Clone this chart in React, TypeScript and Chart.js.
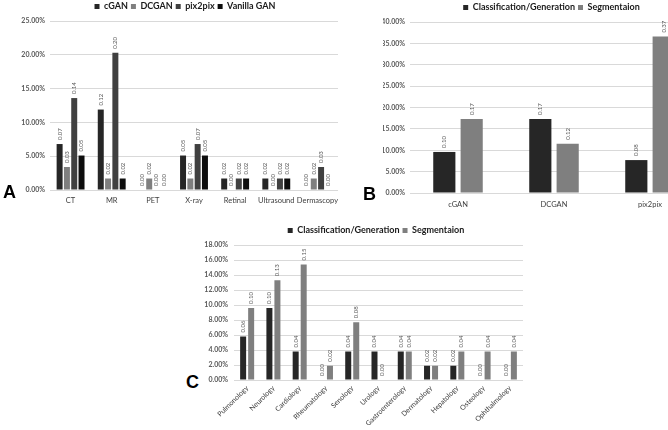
import React, { useEffect, useRef } from "react";
import { Chart, registerables } from "chart.js";
Chart.register(...registerables);

// ---------- Data ----------
const modalities = ["CT", "MR", "PET", "X-ray", "Retinal", "Ultrasound", "Dermascopy"];
const cganA = [6.8, 11.9, 0, 5.1, 1.7, 1.7, 0];
const dcganA = [3.4, 1.7, 1.7, 1.7, 0, 0, 1.7];
const pix2pixA = [13.6, 20.3, 0, 6.8, 1.7, 1.7, 3.4];
const vanillaA = [5.1, 1.7, 0, 5.1, 1.7, 1.7, 0];
const yTicksA = [0, 5, 10, 15, 20, 25];

const ganTypes = ["cGAN", "DCGAN", "pix2pix"];
const classGenB = [9.6, 17.3, 7.7];
const segB = [17.3, 11.5, 36.6];
const yTicksB = [0, 5, 10, 15, 20, 25, 30, 35, 40];

const specialties = [
  "Pulmonology", "Neurology", "Cardiology", "Rheumatology", "Senology", "Urology",
  "Gastroenterology", "Dermatology", "Hepatology", "Osteology", "Ophthalmology",
];
const classGenC = [5.8, 9.6, 3.8, 0, 3.8, 3.8, 3.8, 1.9, 1.9, 0, 0];
const segC = [9.6, 13.3, 15.4, 1.9, 7.7, 0, 3.8, 1.9, 3.8, 3.8, 3.8];
const yTicksC = [0, 2, 4, 6, 8, 10, 12, 14, 16, 18];

const FONT = "Lato";

const valueLabels = {
  id: "valueLabels",
  afterDatasetsDraw(chart: any) {
    const ctx = chart.ctx;
    ctx.save();
    ctx.font = `6px ${FONT}`;
    ctx.fillStyle = "#595959";
    ctx.textAlign = "left";
    ctx.textBaseline = "middle";
    chart.data.datasets.forEach((ds: any, i: number) => {
      const meta = chart.getDatasetMeta(i);
      meta.data.forEach((bar: any, j: number) => {
        const v = ds.data[j];
        const text = (Math.round(v) / 100).toFixed(2);
        ctx.save();
        ctx.translate(bar.x, bar.y - 4);
        ctx.rotate(-Math.PI / 2);
        ctx.fillText(text, 0, 0);
        ctx.restore();
      });
    });
    ctx.restore();
  },
};

type Opts = {
  labels: string[];
  datasets: any[];
  yTicks: number[];
  yWidth: number;
  rightWidth: number;
  xHeight: number;
  topPad: number;
  legendPad: number;
  legendFont: number;
  rotate: boolean;
  xTickPad: number;
  yTickPad: number;
  xFont: number;
  catPct: number;
  barPct: number;
};

function makeConfig(o: Opts): any {
  return {
    type: "bar",
    data: {
      labels: o.labels,
      datasets: o.datasets.map((d) => ({
        ...d,
        borderWidth: 0,
        categoryPercentage: o.catPct,
        barPercentage: o.barPct,
      })),
    },
    plugins: [valueLabels],
    options: {
      responsive: false,
      animation: false,
      layout: { padding: { top: o.topPad, left: 0, right: 0, bottom: 0 } },
      plugins: {
        tooltip: { enabled: false },
        legend: {
          position: "top",
          labels: {
            boxWidth: 5,
            boxHeight: 5,
            padding: o.legendPad,
            color: "#1a1a1a",
            font: { family: FONT, size: o.legendFont, weight: "bold" },
          },
        },
      },
      scales: {
        x: {
          grid: { display: false, drawTicks: false },
          border: { display: false },
          ticks: {
            autoSkip: false,
            color: "#404040",
            font: { family: FONT, size: o.xFont },
            padding: o.xTickPad,
            minRotation: o.rotate ? 45 : 0,
            maxRotation: o.rotate ? 45 : 0,
          },
          afterFit: (s: any) => {
            s.height = o.xHeight;
          },
        },
        y: {
          min: o.yTicks[0],
          max: o.yTicks[o.yTicks.length - 1],
          grid: { color: "#d9d9d9", drawTicks: false },
          border: { display: false },
          afterBuildTicks: (s: any) => {
            s.ticks = o.yTicks.map((v) => ({ value: v }));
          },
          ticks: {
            color: "#595959",
            padding: o.yTickPad,
            font: { family: FONT, size: 7, weight: "bold" },
            callback: (v: any) => Number(v).toFixed(2) + "%",
          },
          afterFit: (s: any) => {
            s.width = o.yWidth;
          },
        },
        pad: {
          type: "linear",
          position: "right",
          display: true,
          grid: { display: false, drawTicks: false },
          border: { display: false },
          ticks: { display: false },
          afterFit: (s: any) => {
            s.width = o.rightWidth;
          },
        },
      },
    },
  };
}

const C_DARK = "#262626";
const C_GRAY = "#7f7f7f";
const C_MID = "#404040";
const C_BLACK = "#0d0d0d";

const letterStyle = (left: number, top: number): React.CSSProperties => ({
  position: "absolute",
  left,
  top,
  font: "bold 18px 'Liberation Sans', Arial, sans-serif",
  lineHeight: "18px",
  color: "#000",
});

export default function App() {
  const refA = useRef<HTMLCanvasElement>(null);
  const refB = useRef<HTMLCanvasElement>(null);
  const refC = useRef<HTMLCanvasElement>(null);

  useEffect(() => {
    document.body.style.margin = "0";
    const charts: Chart[] = [];
    const a = new Chart(
      refA.current!,
      makeConfig({
        labels: modalities,
        datasets: [
          { label: "cGAN", data: cganA, backgroundColor: C_DARK },
          { label: "DCGAN", data: dcganA, backgroundColor: C_GRAY },
          { label: "pix2pix", data: pix2pixA, backgroundColor: C_MID },
          { label: "Vanilla GAN", data: vanillaA, backgroundColor: C_BLACK },
        ],
        yTicks: yTicksA,
        yWidth: 50,
        rightWidth: 32,
        xHeight: 20,
        topPad: -1,
        legendPad: 3,
        legendFont: 9,
        rotate: false,
        xTickPad: 6,
        yTickPad: 5,
        xFont: 7.5,
        catPct: 0.71,
        barPct: 0.82,
      })
    );
    const b = new Chart(
      refB.current!,
      makeConfig({
        labels: ganTypes,
        datasets: [
          { label: "Classification/Generation", data: classGenB, backgroundColor: C_DARK },
          { label: "Segmentaion", data: segB, backgroundColor: C_GRAY },
        ],
        yTicks: yTicksB,
        yWidth: 27,
        rightWidth: 22,
        xHeight: 17,
        topPad: 0,
        legendPad: 3,
        legendFont: 9,
        rotate: false,
        xTickPad: 7,
        yTickPad: 5,
        xFont: 7.5,
        catPct: 0.57,
        barPct: 0.81,
      })
    );
    const c = new Chart(
      refC.current!,
      makeConfig({
        labels: specialties,
        datasets: [
          { label: "Classification/Generation", data: classGenC, backgroundColor: C_DARK },
          { label: "Segmentaion", data: segC, backgroundColor: C_GRAY },
        ],
        yTicks: yTicksC,
        yWidth: 34,
        rightWidth: 29,
        xHeight: 50,
        topPad: 0,
        legendPad: 3,
        legendFont: 9,
        rotate: true,
        xTickPad: 4,
        yTickPad: 6,
        xFont: 7,
        catPct: 0.61,
        barPct: 0.75,
      })
    );
    charts.push(a, b, c);
    return () => charts.forEach((ch) => ch.destroy());
  }, []);

  return (
    <div
      style={{
        position: "fixed",
        left: 0,
        top: 0,
        width: 668,
        height: 430,
        overflow: "hidden",
        background: "#fff",
      }}
    >
      <canvas ref={refA} width={370} height={210} style={{ position: "absolute", left: 0, top: 0 }} />
      <canvas ref={refB} width={337} height={210} style={{ position: "absolute", left: 383, top: 0 }} />
      <canvas ref={refC} width={352} height={207} style={{ position: "absolute", left: 200, top: 223 }} />
      <div style={letterStyle(3, 183)}>A</div>
      <div style={letterStyle(363, 185)}>B</div>
      <div style={letterStyle(186, 373)}>C</div>
    </div>
  );
}
